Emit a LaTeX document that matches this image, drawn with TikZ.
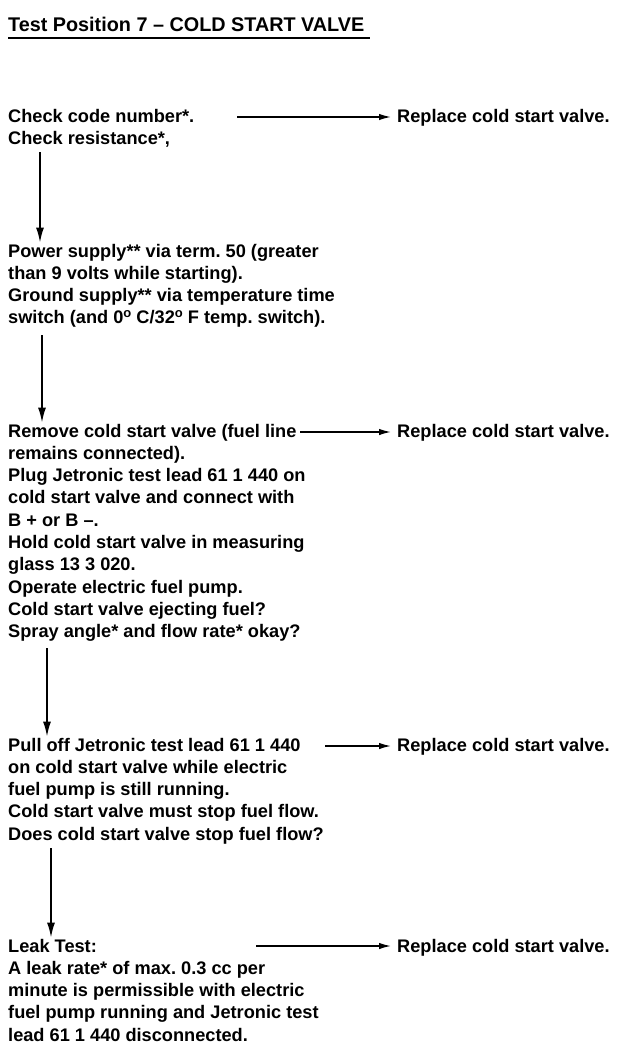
\documentclass[tikz,border=0pt]{standalone}
\usepackage{fontspec}
\setmainfont{Liberation Sans}
\usetikzlibrary{arrows.meta}
\frenchspacing
\newcommand\blk[1]{\vtop{\baselineskip=22.3pt\lineskiplimit=-30pt\lineskip=0pt\halign{##\hfil\cr#1\crcr}}}
\newcommand\supo{\raisebox{6pt}{\fontsize{13}{13}\selectfont o}}
\tikzset{
  txt/.style={anchor=base west, inner sep=0pt, font=\fontsize{18.2}{22.3}\selectfont\bfseries},
  ttl/.style={anchor=base west, inner sep=0pt, font=\fontsize{19.8}{23}\selectfont\bfseries},
  varrow/.style={line width=1.7pt, -{Latex[length=15pt,width=8pt]}, shorten >=1pt},
  harrow/.style={line width=1.5pt, -{Latex[length=12pt,width=6.5pt]}, shorten >=6pt},
  uline/.style={line width=1.6pt}
}
\begin{document}
\begin{tikzpicture}[x=1pt,y=1pt]
\useasboundingbox (0,0) rectangle (624,-1050);
% title
\node[ttl] (title) at (8,-31) {Test Position 7 \textendash{} COLD START VALVE};
\coordinate (u1) at (8,-38);
\coordinate (u2) at (370,-38);
\draw[uline] (u1) -- (u2);
% blocks
\node[txt] (b1) at (8,-122) {\blk{Check code number*.\cr Check resistance*,}};
\node[txt] (b2) at (8,-257) {\blk{Power supply** via term. 50 (greater\cr than 9 volts while starting).\cr Ground supply** via temperature time\cr switch (and 0\supo\ C/32\supo\ F temp. switch).}};
\node[txt] (b3) at (8,-437) {\blk{Remove cold start valve (fuel line\cr remains connected).\cr Plug Jetronic test lead 61 1 440 on\cr cold start valve and connect with\cr B + or B \textendash.\cr Hold cold start valve in measuring\cr glass 13 3 020.\cr Operate electric fuel pump.\cr Cold start valve ejecting fuel?\cr Spray angle* and flow rate* okay?}};
\node[txt] (b4) at (8,-751) {\blk{Pull off Jetronic test lead 61 1 440\cr on cold start valve while electric\cr fuel pump is still running.\cr Cold start valve must stop fuel flow.\cr Does cold start valve stop fuel flow?}};
\node[txt] (b5) at (8,-952) {\blk{Leak Test:\cr A leak rate* of max. 0.3 cc per\cr minute is permissible with electric\cr fuel pump running and Jetronic test\cr lead 61 1 440 disconnected.}};
% replace nodes
\node[txt] (r1) at (397,-122) {Replace cold start valve.};
\node[txt] (r3) at (397,-437) {Replace cold start valve.};
\node[txt] (r4) at (397,-751) {Replace cold start valve.};
\node[txt] (r5) at (397,-952) {Replace cold start valve.};
% horizontal arrows
\coordinate (h1) at (237,-117);
\coordinate (h3) at (300,-432);
\coordinate (h4) at (325,-746);
\coordinate (h5) at (256,-946);
\draw[harrow] (h1) -- (r1.west |- h1);
\draw[harrow] (h3) -- (r3.west |- h3);
\draw[harrow] (h4) -- (r4.west |- h4);
\draw[harrow] (h5) -- (r5.west |- h5);
% vertical arrows
\coordinate (v1) at (40,-152);
\coordinate (v2) at (42,-335);
\coordinate (v3) at (47,-648);
\coordinate (v4) at (51,-848);
\draw[varrow] (v1) -- (v1 |- b2.north);
\draw[varrow] (v2) -- (v2 |- b3.north);
\draw[varrow] (v3) -- (v3 |- b4.north);
\draw[varrow] (v4) -- (v4 |- b5.north);
\end{tikzpicture}
\end{document}
